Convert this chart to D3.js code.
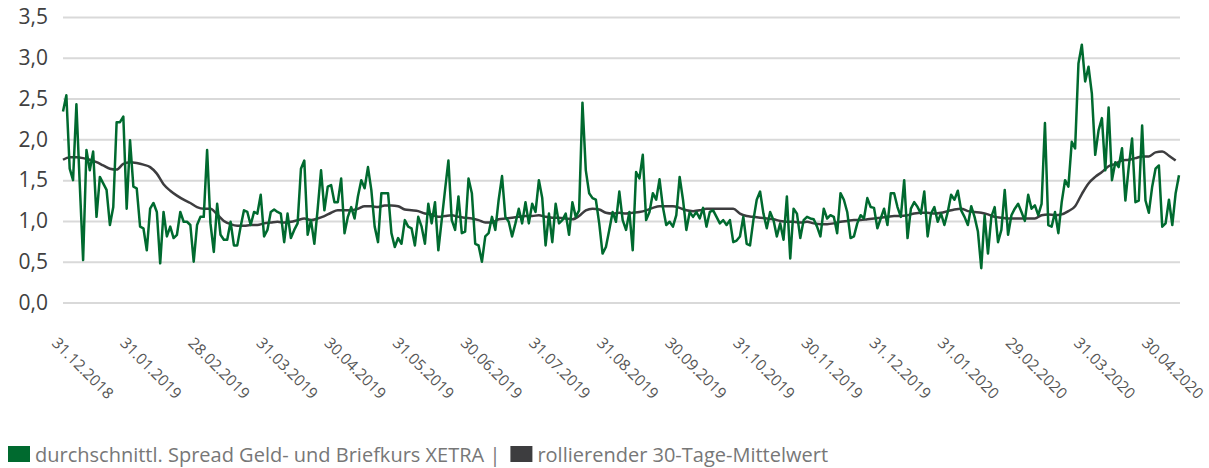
<!DOCTYPE html>
<html>
<head>
<meta charset="utf-8">
<script src="https://cdn.jsdelivr.net/npm/d3@7"></script>
<style>
  body { margin: 0; background: #fff; }
  svg { display: block; font-family: "Open Sans", sans-serif; }
</style>
</head>
<body>
<script>
// daily spread values (trading days 31.12.2018 - 30.04.2020)
var spread = [
  2.34, 2.54, 1.64, 1.50, 2.43, 1.45, 0.52, 1.87, 1.62, 1.85, 1.05, 1.54, 1.46, 1.38, 0.95, 1.17, 2.21, 2.21, 2.28, 1.15,
  1.99, 1.42, 1.40, 0.93, 0.91, 0.64, 1.15, 1.22, 1.11, 0.48, 1.11, 0.81, 0.93, 0.79, 0.83, 1.11, 0.99, 0.99, 0.95, 0.50,
  0.95, 1.05, 1.05, 1.87, 0.97, 0.62, 1.21, 0.83, 0.77, 0.77, 0.99, 0.70, 0.70, 0.93, 1.13, 1.11,
  0.95, 1.11, 1.09, 1.32, 0.81, 0.89, 1.11, 1.14, 1.11, 1.09, 0.74, 1.09, 0.79, 0.89, 0.97, 1.64, 1.74, 0.83, 1.01, 0.72,
  1.15, 1.62, 1.13, 1.42, 1.44, 1.23, 1.23, 1.52, 0.85, 1.05, 1.17, 1.03, 1.30, 1.50, 1.40, 1.66, 1.38, 0.93, 0.74, 1.34,
  1.34, 1.34, 0.85, 0.68, 0.79, 0.72, 1.01, 0.93, 0.91, 0.70, 1.05, 0.93, 0.72, 1.21, 0.97, 1.23,
  0.64, 1.01, 1.38, 1.74, 1.01, 0.89, 1.30, 0.85, 0.87, 1.52, 1.34, 0.72, 0.70, 0.50, 0.81, 0.85, 1.05, 0.89, 1.26, 1.55,
  1.05, 0.99, 0.81, 0.97, 1.15, 0.97, 1.23, 0.97, 1.21, 1.11, 1.50, 1.28, 0.70, 1.09, 0.74, 1.21, 0.97, 1.01, 1.09, 0.83,
  1.23, 1.05, 1.13, 2.45, 1.62, 1.34, 1.28, 1.26, 0.97, 0.60, 0.68, 0.89, 1.11, 0.99, 1.36,
  1.01, 0.89, 1.11, 0.64, 1.60, 1.52, 1.81, 1.01, 1.11, 1.34, 1.26, 1.51, 1.17, 0.95, 0.99, 0.93, 1.07, 1.54, 1.26, 0.89,
  1.11, 1.05, 1.11, 1.03, 1.16, 0.93, 1.11, 1.13, 1.05, 0.97, 1.01, 0.95, 1.01, 0.74, 0.76, 0.81, 1.05, 0.72, 0.70, 1.01,
  1.26, 1.36, 1.09, 0.91, 1.11, 1.01, 0.81, 0.97, 0.77, 1.30, 0.54, 1.15, 1.09, 0.79, 1.01,
  1.05, 1.03, 1.02, 0.93, 0.81, 1.15, 1.03, 1.07, 1.05, 0.85, 1.34, 1.26, 1.11, 0.79, 0.81, 0.97, 1.07, 1.03, 1.28, 1.17,
  1.16, 0.91, 1.03, 1.15, 0.95, 1.34, 1.34, 1.17, 1.05, 1.50, 0.79, 1.15, 1.23, 1.17, 1.09, 1.36, 0.81, 1.09, 1.17, 0.99,
  1.09, 0.95, 1.11, 1.32, 1.26, 1.37, 1.13, 1.05, 0.95, 1.18, 1.05, 0.87, 0.42, 1.07, 0.60,
  1.05, 1.17, 0.74, 0.89, 1.38, 0.83, 1.07, 1.15, 1.21, 1.11, 1.00, 1.32, 1.15, 1.19, 1.07, 1.21, 2.20, 0.95, 0.93, 1.11,
  0.85, 1.23, 1.50, 1.42, 1.97, 1.89, 2.93, 3.16, 2.71, 2.89, 2.56, 1.81, 2.11, 2.26, 1.62, 2.39, 1.50, 1.72, 1.66, 1.89,
  1.25, 1.66, 2.01, 1.23, 1.25, 2.17, 1.25, 1.10, 1.42, 1.64, 1.68, 0.93, 0.97, 1.26, 0.95, 1.34, 1.56
];

var rolling = [
  1.75, 1.78, 1.78, 1.77, 1.75, 1.72, 1.68, 1.64, 1.63, 1.70, 1.72, 1.71, 1.69, 1.66, 1.58, 1.45, 1.37, 1.31, 1.26, 1.22,
  1.17, 1.15, 1.15, 1.08, 1.00, 0.96, 0.94, 0.94, 0.95, 0.95, 0.97, 0.98, 0.99, 0.98, 0.99, 1.01, 1.03, 1.01, 1.03, 1.06,
  1.10, 1.13, 1.13, 1.13, 1.15, 1.18, 1.18, 1.17, 1.19, 1.19, 1.18, 1.14, 1.13, 1.12, 1.09, 1.08, 1.05, 1.06, 1.07, 1.05,
  1.04, 1.03, 1.01, 0.98, 0.98, 1.02, 1.03, 1.04, 1.05, 1.06, 1.06, 1.07, 1.05, 1.04, 1.04, 1.03, 1.02, 1.06, 1.13, 1.15,
  1.14, 1.10, 1.09, 1.10, 1.09, 1.10, 1.11, 1.13, 1.16, 1.18, 1.18, 1.18, 1.16, 1.13, 1.12, 1.13, 1.15, 1.15, 1.15, 1.15,
  1.15, 1.09, 1.06, 1.05, 1.04, 1.03, 1.02, 1.00, 0.99, 0.99, 0.98, 0.99, 0.97, 0.96, 0.96, 0.97, 0.99, 1.00, 1.01, 1.01,
  1.02, 1.03, 1.04, 1.05, 1.06, 1.06, 1.07, 1.09, 1.10, 1.10, 1.09, 1.10, 1.12, 1.14, 1.15, 1.12, 1.11, 1.10, 1.08, 1.05,
  1.04, 1.03, 1.03, 1.03, 1.03, 1.03, 1.07, 1.08, 1.07, 1.08, 1.12, 1.18, 1.33, 1.46, 1.54, 1.60, 1.67, 1.70, 1.74, 1.75,
  1.77, 1.79, 1.79, 1.84, 1.85, 1.80, 1.74
];
var rollingStep = 2;

var tickLabels = [
  "31.12.2018", "31.01.2019", "28.02.2019", "31.03.2019", "30.04.2019", "31.05.2019",
  "30.06.2019", "31.07.2019", "31.08.2019", "30.09.2019", "31.10.2019", "30.11.2019",
  "31.12.2019", "31.01.2020", "29.02.2020", "31.03.2020", "30.04.2020"
];
var yTicks = [0, 0.5, 1, 1.5, 2, 2.5, 3, 3.5];

var seriesNames = ["durchschnittl. Spread Geld- und Briefkurs XETRA", "rollierender 30-Tage-Mittelwert"];
var colors = ["#006a2f", "#3d3d3f"];

var width = 1209, height = 468;
var plotLeft = 63, plotRight = 1180, plotTop = 17, plotBottom = 302.5;

var svg = d3.select("body").append("svg")
    .attr("width", width)
    .attr("height", height);

var xScale = d3.scaleLinear()
    .domain([0, spread.length - 1])
    .range([plotLeft, plotRight - 1]);

var yScale = d3.scaleLinear()
    .domain([0, 3.5])
    .range([plotBottom, plotTop]);

var fmt = function(d) { return d3.format(".1f")(d).replace(".", ","); };

// grid lines + y labels
var yAxis = d3.axisLeft(yScale)
    .tickValues(yTicks)
    .tickSize(-(plotRight - plotLeft))
    .tickPadding(15)
    .tickFormat(fmt);

var gy = svg.append("g")
    .attr("transform", "translate(" + plotLeft + ",0)")
    .call(yAxis)
    .attr("font-family", null)
    .attr("font-size", null);
gy.select(".domain").remove();
gy.selectAll(".tick line")
    .attr("stroke", "#d9d9d9")
    .attr("stroke-width", 2);
gy.selectAll(".tick text")
    .attr("fill", "#404040")
    .style("font-size", "21px");

// x labels (evenly spaced category ticks)
var labelScale = d3.scalePoint()
    .domain(tickLabels)
    .range([51, 1141]);

svg.append("g").selectAll("text")
    .data(tickLabels)
  .enter().append("text")
    .attr("transform", function(d) {
        return "translate(" + labelScale(d) + ",344) rotate(45)";
    })
    .attr("fill", "#555")
    .style("font-size", "15.5px")
    .text(function(d) { return d; });

var line = d3.line()
    .x(function(d, i) { return xScale(i); })
    .y(function(d) { return yScale(d); });

var rollLine = d3.line()
    .x(function(d, i) { return xScale(i * rollingStep); })
    .y(function(d) { return yScale(d); })
    .curve(d3.curveMonotoneX);

svg.append("path")
    .datum(rolling)
    .attr("fill", "none")
    .attr("stroke", colors[1])
    .attr("stroke-width", 2.5)
    .attr("d", rollLine);

svg.append("path")
    .datum(spread)
    .attr("fill", "none")
    .attr("stroke", colors[0])
    .attr("stroke-width", 2.5)
    .attr("stroke-linejoin", "round")
    .attr("d", line);

// legend
var legend = svg.append("text")
    .attr("y", 462)
    .attr("fill", "#777")
    .style("font-size", "20px");

seriesNames.forEach(function(name, i) {
    svg.append("rect")
        .attr("id", "lbox" + i)
        .attr("y", 446)
        .attr("width", 22)
        .attr("height", 16)
        .attr("fill", colors[i]);
});

legend.append("tspan").attr("x", 35).text(seriesNames[0] + " |");
var w1 = legend.node().getComputedTextLength();
d3.select("#lbox0").attr("x", 8);
d3.select("#lbox1").attr("x", 35 + w1 + 10);
legend.append("tspan").attr("x", 35 + w1 + 37).text(seriesNames[1]);
</script>
</body>
</html>
